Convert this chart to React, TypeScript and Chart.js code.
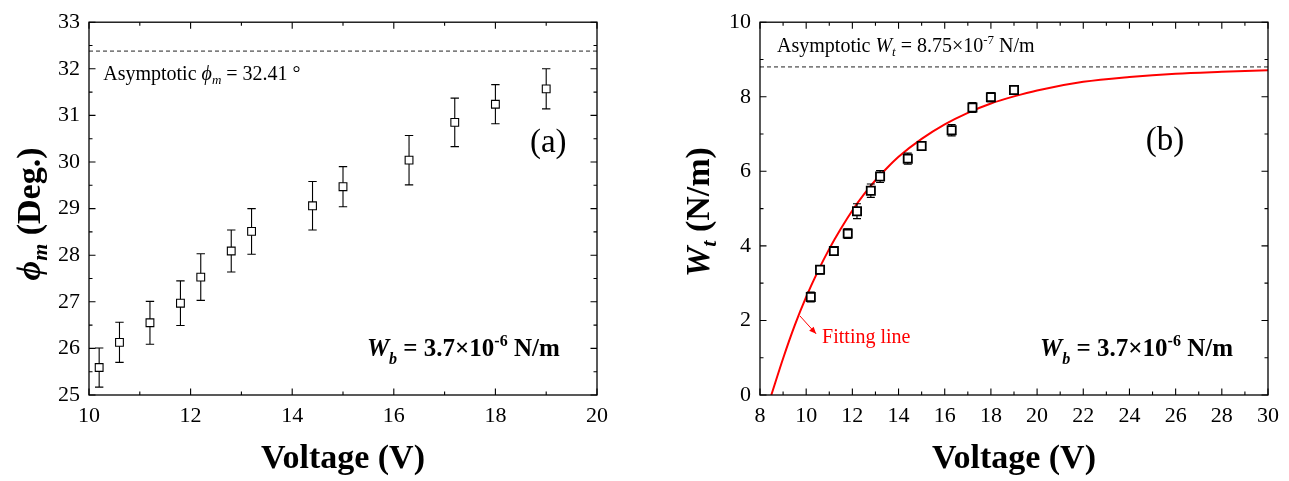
import React, { useEffect, useRef } from "react";
import { Chart, registerables } from "chart.js";

Chart.register(...registerables);

const FONT = "'Liberation Serif', 'Times New Roman', Times, serif";

// ---- data ----
const voltage = [10.2, 10.6, 11.2, 11.8, 12.2, 12.8, 13.2, 14.4, 15.0, 16.3, 17.2, 18.0, 19.0];
const phiM = [25.59, 26.13, 26.55, 26.97, 27.53, 28.09, 28.51, 29.06, 29.47, 30.04, 30.85, 31.24, 31.57];
const phiErr = [0.42, 0.43, 0.46, 0.48, 0.5, 0.45, 0.49, 0.52, 0.43, 0.53, 0.52, 0.42, 0.43];
const wt = [2.63, 3.36, 3.86, 4.33, 4.93, 5.48, 5.86, 6.34, 6.68, 7.1, 7.71, 7.99, 8.18];
const wtErr = [0.13, 0.11, 0.11, 0.13, 0.2, 0.18, 0.16, 0.15, 0.12, 0.15, 0.13, 0.12, 0.12];

const fitVoltage = [8.49, 9.0, 9.5, 10.0, 10.5, 11.0, 11.5, 12.0, 12.5, 13.0, 13.5, 14.0, 15.0, 16.0, 17.0, 18.0, 19.0, 20.0, 22.0, 24.0, 26.0, 28.0, 30.0];
const fitWt = [0, 0.98, 1.86, 2.63, 3.31, 3.92, 4.46, 4.95, 5.38, 5.76, 6.09, 6.39, 6.87, 7.26, 7.57, 7.82, 8.01, 8.17, 8.4, 8.53, 8.62, 8.67, 8.71];

const phiAsymptote = 32.38;
const wtAsymptote = 8.8;

// ---- ticks ----
const phiXTicks = [10, 12, 14, 16, 18, 20];
const phiXMinor = [11, 13, 15, 17, 19];
const phiYTicks = [25, 26, 27, 28, 29, 30, 31, 32, 33];
const phiYMinor = [25.5, 26.5, 27.5, 28.5, 29.5, 30.5, 31.5, 32.5];
const wtXTicks = [8, 10, 12, 14, 16, 18, 20, 22, 24, 26, 28, 30];
const wtXMinor = [9, 11, 13, 15, 17, 19, 21, 23, 25, 27, 29];
const wtYTicks = [0, 2, 4, 6, 8, 10];
const wtYMinor = [1, 3, 5, 7, 9];

type Run = { t: string; f: string; dy?: number };

function drawRuns(ctx: CanvasRenderingContext2D, runs: Run[], x: number, y: number, align: "left" | "center" | "right") {
  let total = 0;
  const widths = runs.map((r) => {
    ctx.font = r.f;
    const w = ctx.measureText(r.t).width;
    total += w;
    return w;
  });
  let cx = align === "left" ? x : align === "center" ? x - total / 2 : x - total;
  ctx.textAlign = "left";
  ctx.textBaseline = "alphabetic";
  runs.forEach((r, i) => {
    ctx.font = r.f;
    ctx.fillText(r.t, cx, y + (r.dy || 0));
    cx += widths[i];
  });
}

function drawFrame(chart: any, xMajor: number[], xMinor: number[], yMajor: number[], yMinor: number[]) {
  const ctx: CanvasRenderingContext2D = chart.ctx;
  const a = chart.chartArea;
  const xs = chart.scales.x;
  const ys = chart.scales.y;
  ctx.save();
  ctx.strokeStyle = "#000";
  ctx.lineWidth = 1.3;
  ctx.strokeRect(a.left, a.top, a.right - a.left, a.bottom - a.top);
  ctx.lineWidth = 1.1;
  ctx.beginPath();
  const tx = (vals: number[], len: number) =>
    vals.forEach((v) => {
      const p = xs.getPixelForValue(v);
      ctx.moveTo(p, a.bottom);
      ctx.lineTo(p, a.bottom - len);
      ctx.moveTo(p, a.top);
      ctx.lineTo(p, a.top + len);
    });
  const ty = (vals: number[], len: number) =>
    vals.forEach((v) => {
      const p = ys.getPixelForValue(v);
      ctx.moveTo(a.left, p);
      ctx.lineTo(a.left + len, p);
      ctx.moveTo(a.right, p);
      ctx.lineTo(a.right - len, p);
    });
  tx(xMajor, 6.5);
  tx(xMinor, 3.5);
  ty(yMajor, 6.5);
  ty(yMinor, 3.5);
  ctx.stroke();
  ctx.restore();
}

function drawErrorBars(chart: any, xv: number[], yv: number[], ev: number[], cap: number, lw: number) {
  const ctx: CanvasRenderingContext2D = chart.ctx;
  const xs = chart.scales.x;
  const ys = chart.scales.y;
  ctx.save();
  ctx.strokeStyle = "#000";
  ctx.lineWidth = lw;
  ctx.beginPath();
  xv.forEach((x, i) => {
    const px = xs.getPixelForValue(x);
    const top = ys.getPixelForValue(yv[i] + ev[i]);
    const bot = ys.getPixelForValue(yv[i] - ev[i]);
    ctx.moveTo(px, top);
    ctx.lineTo(px, bot);
    ctx.moveTo(px - cap, top);
    ctx.lineTo(px + cap, top);
    ctx.moveTo(px - cap, bot);
    ctx.lineTo(px + cap, bot);
  });
  ctx.stroke();
  ctx.restore();
}

function makeScales(xmin: number, xmax: number, xticks: number[], ymin: number, ymax: number, yticks: number[], yWidth: number, xHeight: number) {
  return {
    x: {
      type: "linear",
      min: xmin,
      max: xmax,
      afterBuildTicks: (s: any) => {
        s.ticks = xticks.map((v) => ({ value: v }));
      },
      afterFit: (s: any) => {
        s.height = xHeight;
      },
      grid: { display: false, drawTicks: false },
      border: { display: false },
      ticks: { color: "#000", font: { family: FONT, size: 22 }, padding: 8, maxRotation: 0, autoSkip: false },
      title: {
        display: true,
        text: "Voltage (V)",
        color: "#000",
        font: { family: FONT, size: 34, weight: "bold" },
        padding: { top: 0, bottom: 1 },
      },
    },
    y: {
      type: "linear",
      min: ymin,
      max: ymax,
      afterBuildTicks: (s: any) => {
        s.ticks = yticks.map((v) => ({ value: v }));
      },
      afterFit: (s: any) => {
        s.width = yWidth;
      },
      grid: { display: false, drawTicks: false },
      border: { display: false },
      ticks: { color: "#000", font: { family: FONT, size: 22 }, padding: 9, autoSkip: false },
    },
  };
}

function leftConfig(): any {
  return {
    type: "scatter",
    data: {
      datasets: [
        {
          data: voltage.map((x, i) => ({ x, y: phiM[i] })),
          pointStyle: "rect",
          pointRadius: 5.5,
          borderColor: "#000",
          backgroundColor: "#fff",
          borderWidth: 1.1,
          showLine: false,
        },
        {
          data: [
            { x: phiXTicks[0], y: phiAsymptote },
            { x: phiXTicks[phiXTicks.length - 1], y: phiAsymptote },
          ],
          showLine: true,
          borderColor: "#222",
          borderWidth: 1,
          borderDash: [4, 3],
          pointRadius: 0,
        },
      ],
    },
    options: {
      responsive: false,
      maintainAspectRatio: false,
      animation: false,
      layout: { padding: { left: 0, right: 53, top: 22, bottom: 0 } },
      plugins: { legend: { display: false }, tooltip: { enabled: false } },
      scales: makeScales(10, 20, phiXTicks, 25, 33, phiYTicks, 89, 86),
    },
    plugins: [
      {
        id: "leftDecor",
        beforeDatasetDraw(chart: any, args: any) {
          if (args.index === 0) drawErrorBars(chart, voltage, phiM, phiErr, 4.2, 1.1);
        },
        afterDraw(chart: any) {
          drawFrame(chart, phiXTicks, phiXMinor, phiYTicks, phiYMinor);
          const ctx: CanvasRenderingContext2D = chart.ctx;
          const xs = chart.scales.x;
          const ys = chart.scales.y;
          ctx.save();
          ctx.fillStyle = "#000";
          drawRuns(
            ctx,
            [
              { t: "Asymptotic ", f: `20px ${FONT}` },
              { t: "ϕ", f: `italic 20px ${FONT}` },
              { t: "m", f: `italic 13px ${FONT}`, dy: 4 },
              { t: " = 32.41 °", f: `20px ${FONT}` },
            ],
            xs.getPixelForValue(10.28),
            ys.getPixelForValue(31.76),
            "left"
          );
          drawRuns(ctx, [{ t: "(a)", f: `33px ${FONT}` }], xs.getPixelForValue(19.04), ys.getPixelForValue(30.21), "center");
          drawRuns(
            ctx,
            [
              { t: "W", f: `italic bold 25px ${FONT}` },
              { t: "b", f: `italic bold 16px ${FONT}`, dy: 8 },
              { t: " = 3.7×10", f: `bold 25px ${FONT}` },
              { t: "-6", f: `bold 16px ${FONT}`, dy: -10 },
              { t: " N/m", f: `bold 25px ${FONT}` },
            ],
            xs.getPixelForValue(15.47),
            ys.getPixelForValue(25.84),
            "left"
          );
          // y title
          ctx.translate(40, 214);
          ctx.rotate(-Math.PI / 2);
          drawRuns(
            ctx,
            [
              { t: "ϕ", f: `italic bold 34px ${FONT}` },
              { t: "m", f: `italic bold 22px ${FONT}`, dy: 7 },
              { t: " (Deg.)", f: `bold 34px ${FONT}` },
            ],
            0,
            0,
            "center"
          );
          ctx.restore();
        },
      },
    ],
  };
}

function rightConfig(): any {
  return {
    type: "scatter",
    data: {
      datasets: [
        {
          data: voltage.map((x, i) => ({ x, y: wt[i] })),
          pointStyle: "rect",
          pointRadius: 5.8,
          borderColor: "#000",
          backgroundColor: "#fff",
          borderWidth: 1.8,
          showLine: false,
        },
        {
          data: fitVoltage.map((x, i) => ({ x, y: fitWt[i] })),
          showLine: true,
          borderColor: "#ff0000",
          borderWidth: 2,
          pointRadius: 0,
          cubicInterpolationMode: "monotone",
        },
        {
          data: [
            { x: wtXTicks[0], y: wtAsymptote },
            { x: wtXTicks[wtXTicks.length - 1], y: wtAsymptote },
          ],
          showLine: true,
          borderColor: "#222",
          borderWidth: 1,
          borderDash: [4, 3],
          pointRadius: 0,
        },
      ],
    },
    options: {
      responsive: false,
      maintainAspectRatio: false,
      animation: false,
      layout: { padding: { left: 0, right: 21, top: 22, bottom: 0 } },
      plugins: { legend: { display: false }, tooltip: { enabled: false } },
      scales: makeScales(8, 30, wtXTicks, 0, 10, wtYTicks, 110, 86),
    },
    plugins: [
      {
        id: "rightDecor",
        beforeDatasetDraw(chart: any, args: any) {
          if (args.index === 0) drawErrorBars(chart, voltage, wt, wtErr, 4, 1.2);
        },
        afterDraw(chart: any) {
          drawFrame(chart, wtXTicks, wtXMinor, wtYTicks, wtYMinor);
          const ctx: CanvasRenderingContext2D = chart.ctx;
          const xs = chart.scales.x;
          const ys = chart.scales.y;
          ctx.save();
          ctx.fillStyle = "#000";
          drawRuns(
            ctx,
            [
              { t: "Asymptotic ", f: `20px ${FONT}` },
              { t: "W", f: `italic 20px ${FONT}` },
              { t: "t", f: `italic 13px ${FONT}`, dy: 4 },
              { t: " = 8.75×10", f: `20px ${FONT}` },
              { t: "-7", f: `13px ${FONT}`, dy: -8 },
              { t: " N/m", f: `20px ${FONT}` },
            ],
            xs.getPixelForValue(8.74),
            ys.getPixelForValue(9.19),
            "left"
          );
          drawRuns(ctx, [{ t: "(b)", f: `33px ${FONT}` }], xs.getPixelForValue(25.54), ys.getPixelForValue(6.56), "center");
          drawRuns(
            ctx,
            [
              { t: "W", f: `italic bold 25px ${FONT}` },
              { t: "b", f: `italic bold 16px ${FONT}`, dy: 8 },
              { t: " = 3.7×10", f: `bold 25px ${FONT}` },
              { t: "-6", f: `bold 16px ${FONT}`, dy: -10 },
              { t: " N/m", f: `bold 25px ${FONT}` },
            ],
            xs.getPixelForValue(20.13),
            ys.getPixelForValue(1.05),
            "left"
          );
          // Fitting line label + arrow
          ctx.fillStyle = "#ff0000";
          drawRuns(ctx, [{ t: "Fitting line", f: `20px ${FONT}` }], xs.getPixelForValue(10.69), ys.getPixelForValue(1.4), "left");
          const x0 = xs.getPixelForValue(9.73);
          const y0 = ys.getPixelForValue(2.12);
          const x1 = xs.getPixelForValue(10.43);
          const y1 = ys.getPixelForValue(1.64);
          ctx.strokeStyle = "#ff0000";
          ctx.lineWidth = 1;
          ctx.beginPath();
          ctx.moveTo(x0, y0);
          ctx.lineTo(x1, y1);
          ctx.stroke();
          const ang = Math.atan2(y1 - y0, x1 - x0);
          const hl = 7;
          const hw = 3;
          ctx.beginPath();
          ctx.moveTo(x1, y1);
          ctx.lineTo(x1 - hl * Math.cos(ang) + hw * Math.sin(ang), y1 - hl * Math.sin(ang) - hw * Math.cos(ang));
          ctx.lineTo(x1 - hl * Math.cos(ang) - hw * Math.sin(ang), y1 - hl * Math.sin(ang) + hw * Math.cos(ang));
          ctx.closePath();
          ctx.fill();
          // y title
          ctx.fillStyle = "#000";
          ctx.translate(59, 212);
          ctx.rotate(-Math.PI / 2);
          drawRuns(
            ctx,
            [
              { t: "W", f: `italic bold 34px ${FONT}` },
              { t: "t", f: `italic bold 22px ${FONT}`, dy: 7 },
              { t: " (N/m)", f: `bold 34px ${FONT}` },
            ],
            0,
            0,
            "center"
          );
          ctx.restore();
        },
      },
    ],
  };
}

export default function App() {
  const leftRef = useRef<HTMLCanvasElement>(null);
  const rightRef = useRef<HTMLCanvasElement>(null);
  useEffect(() => {
    const c1 = new Chart(leftRef.current as HTMLCanvasElement, leftConfig());
    const c2 = new Chart(rightRef.current as HTMLCanvasElement, rightConfig());
    return () => {
      c1.destroy();
      c2.destroy();
    };
  }, []);
  return (
    <div style={{ position: "fixed", left: 0, top: 0, width: 1289, height: 481, background: "#fff" }}>
      <canvas ref={leftRef} width={650} height={481} style={{ position: "absolute", left: 0, top: 0, width: 650, height: 481 }} />
      <canvas ref={rightRef} width={639} height={481} style={{ position: "absolute", left: 650, top: 0, width: 639, height: 481 }} />
    </div>
  );
}
